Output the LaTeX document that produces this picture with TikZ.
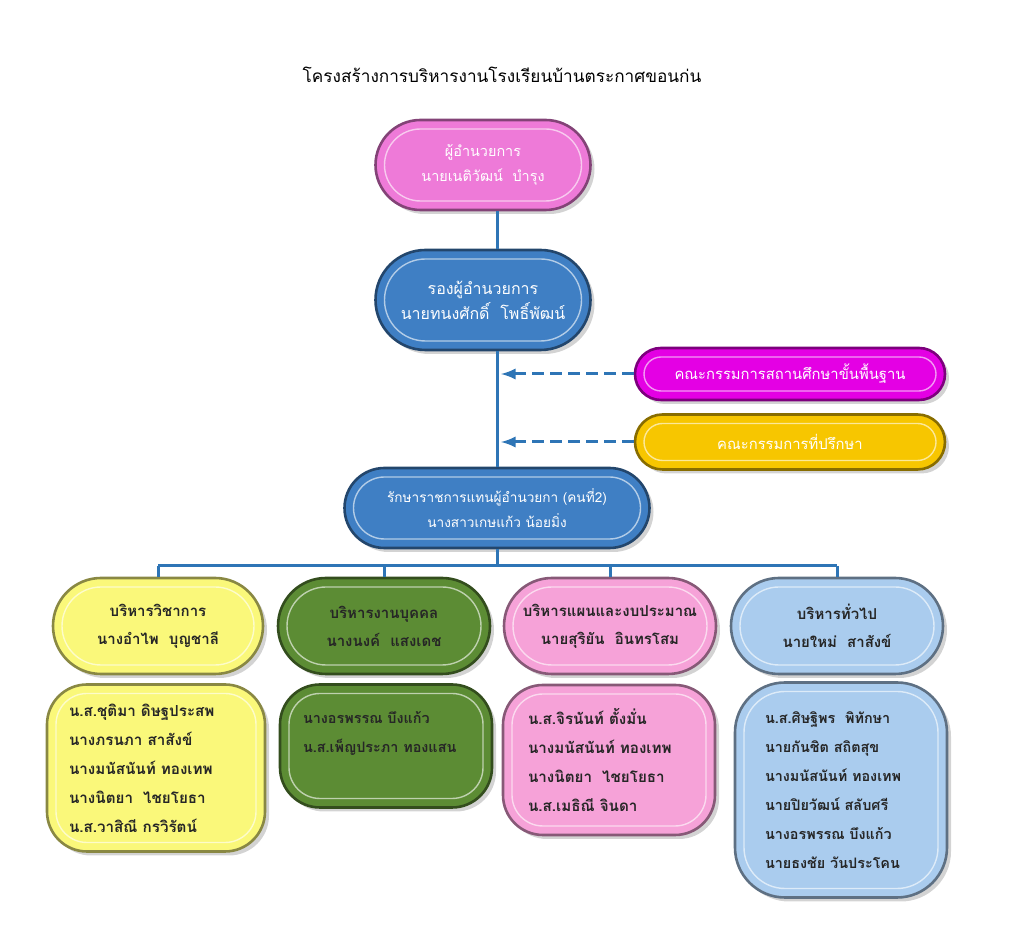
\documentclass[tikz,border=0pt]{standalone}
\usepackage{fontspec}
\usepackage{xcolor}
\usepackage{tikz}
\usetikzlibrary{shadows}
\newfontfamily\thaifont[Script=Thai]{Loma}
\definecolor{linkblue}{RGB}{46,117,182}
\definecolor{chiefpink}{RGB}{238,122,216}
\definecolor{deepblue}{RGB}{63,127,196}
\definecolor{boardmagenta}{RGB}{228,0,228}
\definecolor{advisgold}{RGB}{247,198,0}
\definecolor{acadyellow}{RGB}{250,248,122}
\definecolor{staffgreen}{RGB}{92,140,52}
\definecolor{planpink}{RGB}{246,162,216}
\definecolor{genblue}{RGB}{170,204,238}
\tikzset{
  bevel/.style={
    fill=#1, draw=#1!55!black, line width=1.3pt,
    drop shadow={shadow xshift=2pt, shadow yshift=-2pt, opacity=0.35},
    path picture={
      \draw[#1!40!white, line width=0.7pt, rounded corners=\innerr]
        ([shift={(4.5pt,-4.5pt)}]path picture bounding box.north west) rectangle
        ([shift={(-4.5pt,4.5pt)}]path picture bounding box.south east);
    }
  },
  corner r/.style={rounded corners=#1, /utils/exec={\def\innerr{#1-4.5pt}}},
  lighttext/.style={text=white, align=center,
    font=\thaifont\fontsize{#1}{12.5}\selectfont},
  darktext/.style={text=black!85, align=center,
    font=\thaifont\bfseries\fontsize{7.5}{14}\selectfont},
  listtext/.style={text=black!85, align=left,
    font=\thaifont\bfseries\fontsize{#1}{14.5}\selectfont},
  link/.style={draw=linkblue, line width=1.5pt},
  dashlink/.style={link, dash pattern=on 6pt off 3pt, -latex}
}
\begin{document}
\begin{tikzpicture}[x=0.5pt, y=-0.5pt]
	\useasboundingbox (0,0) rectangle (1024,929);
	\node[font=\thaifont\fontsize{8.6}{11}\selectfont] (title) at (502,75) {โครงสร้างการบริหารงานโรงเรียนบ้านตระกาศขอนก่น};
	%
	\node[bevel=chiefpink, corner r=22.5pt, minimum width=107.5pt, minimum height=45pt, lighttext=7.2] (chief) at (483,165) {ผู้อำนวยการ\\นายเนติวัฒน์~ บำรุง};
	\node[bevel=deepblue, corner r=25pt, minimum width=107.5pt, minimum height=50pt, lighttext=8] (deputy) at (483,300) {รองผู้อำนวยการ\\นายทนงศักดิ์~ โพธิ์พัฒน์};
	\node[bevel=boardmagenta, corner r=13pt, minimum width=155pt, minimum height=26pt, lighttext=7.4] (board) at (790,374) {คณะกรรมการสถานศึกษาขั้นพื้นฐาน};
	\node[bevel=advisgold, corner r=13.75pt, minimum width=155pt, minimum height=27.5pt, lighttext=7.4] (advisers) at (790,442) {คณะกรรมการที่ปรึกษา};
	\node[bevel=deepblue, corner r=20pt, minimum width=152.5pt, minimum height=40pt, lighttext=6.8] (acting) at (497,508) {รักษาราชการแทนผู้อำนวยกา (คนที่2)\\นางสาวเกษแก้ว น้อยมิ่ง};
	%
	\node[bevel=acadyellow, corner r=24pt, minimum width=105pt, minimum height=48pt, darktext] (acad) at (158,626) {บริหารวิชาการ\\นางอำไพ~ บุญชาลี};
	\node[bevel=staffgreen, corner r=24pt, minimum width=106pt, minimum height=48pt, darktext] (staff) at (384,626) {บริหารงานบุคคล\\นางนงค์~ แสงเดช};
	\node[bevel=planpink, corner r=24pt, minimum width=106pt, minimum height=48pt, darktext] (plan) at (610,626) {บริหารแผนและงบประมาณ\\นายสุริยัน~ อินทรโสม};
	\node[bevel=genblue, corner r=24pt, minimum width=106pt, minimum height=48pt, darktext] (general) at (837,626) {บริหารทั่วไป\\นายใหม่~ สาสังข์};
	%
	\node[bevel=acadyellow, corner r=20pt, minimum width=109pt, minimum height=83.5pt, listtext=7.6, text width=87pt] (acadlist) at (156,768) {น.ส.ชุติมา ดิษฐประสพ\\นางภรนภา สาสังข์\\นางมนัสนันท์ ทองเทพ\\นางนิตยา~ ไชยโยธา\\น.ส.วาสิณี กรวิรัตน์};
	\node[bevel=staffgreen, corner r=20pt, minimum width=106pt, minimum height=61.5pt, listtext=7.2, text width=83pt] (stafflist) at (386,746) {นางอรพรรณ บึงแก้ว\\น.ส.เพ็ญประภา ทองแสน\\\mbox{}};
	\node[bevel=planpink, corner r=20pt, minimum width=106pt, minimum height=75pt, listtext=7.6, text width=81pt] (planlist) at (609,760) {น.ส.จิรนันท์ ตั้งมั่น\\นางมนัสนันท์ ทองเทพ\\นางนิตยา~ ไชยโยธา\\น.ส.เมธิณี จินดา};
	\node[bevel=genblue, corner r=25pt, minimum width=106pt, minimum height=107.5pt, listtext=7.2, text width=76pt] (genlist) at (841,790) {น.ส.ศิษฐิพร~ พิทักษา\\นายกันชิต สถิตสุข\\นางมนัสนันท์ ทองเทพ\\นายปิยวัฒน์ สลับศรี\\นางอรพรรณ บึงแก้ว\\นายธงชัย วันประโคน};
	%
	\coordinate (spine) at (497,0);
	\coordinate (bus) at (0,566);
	\draw[link] (chief.south -| spine) -- (deputy.north -| spine);
	\draw[link] (deputy.south -| spine) -- (acting.north);
	\draw[dashlink] (board.west) -- ([xshift=2pt]board.west -| spine);
	\draw[dashlink] (advisers.west) -- ([xshift=2pt]advisers.west -| spine);
	\draw[link] (acting.south) -- (acting.south |- bus);
	\draw[link] (acad.north |- bus) -- (general.north |- bus);
	\draw[link] (acad.north |- bus) -- (acad.north);
	\draw[link] (staff.north |- bus) -- (staff.north);
	\draw[link] (plan.north |- bus) -- (plan.north);
	\draw[link] (general.north |- bus) -- (general.north);
\end{tikzpicture}
\end{document}
